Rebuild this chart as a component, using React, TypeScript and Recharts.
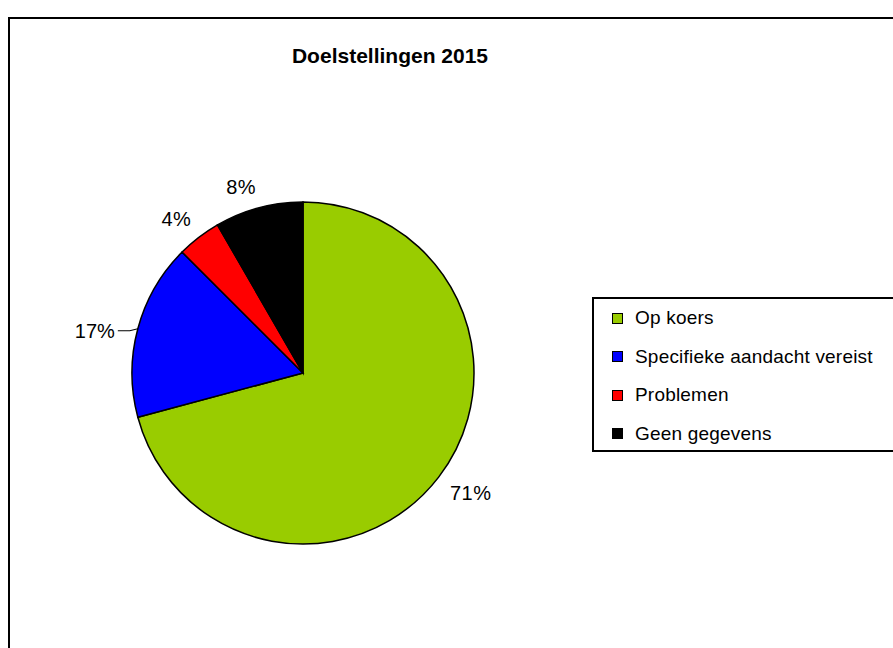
import { PieChart, Pie, Cell, Legend } from 'recharts';

const title = 'Doelstellingen 2015';
const categories = ['Op koers', 'Specifieke aandacht vereist', 'Problemen', 'Geen gegevens'];
// aantal doelstellingen per status (24 in totaal -> 71%, 17%, 4%, 8%)
const counts = [17, 4, 1, 2];
const colors = ['#99CC00', '#0000FF', '#FF0000', '#000000'];
const leaderFor = 'Specifieke aandacht vereist';

const data = categories.map((name, i) => ({ name, value: counts[i] }));

const FONT = '"Liberation Sans", Arial, sans-serif';
const RADIAN = Math.PI / 180;

function renderLabel(props: any) {
    const { cx, cy, midAngle, outerRadius, percent, name } = props;
    const text = `${Math.round(percent * 100)}%`;
    const cos = Math.cos(-midAngle * RADIAN);
    const sin = Math.sin(-midAngle * RADIAN);

    if (name === leaderFor) {
        const px = cx + outerRadius * cos;
        const py = cy + outerRadius * sin;
        return (
            <g>
                <polyline
                    points={`${px},${py} ${px - 8},${py + 2} ${px - 20},${py + 2}`}
                    fill="none"
                    stroke="#000"
                    strokeWidth={1.2}
                />
                <text x={px - 23} y={py + 2} textAnchor="end" dominantBaseline="central"
                    fontFamily={FONT} fontSize={20} fill="#000">
                    {text}
                </text>
            </g>
        );
    }

    // label box corner touches a point just outside the slice, like excel does
    const w = text.length * 14;
    const h = 15;
    const r = outerRadius + 14;
    const x = cx + r * cos + (cos >= 0 ? w / 2 : -w / 2);
    const y = cy + r * sin + (sin >= 0 ? h / 2 : -h / 2);
    return (
        <text x={x} y={y} textAnchor="middle" dominantBaseline="central"
            fontFamily={FONT} fontSize={20} fill="#000" letterSpacing={0.5}>
            {text}
        </text>
    );
}

function LegendBox() {
    return (
        <div style={{
            borderTop: '2px solid #000', borderLeft: '2px solid #000', borderBottom: '2px solid #000',
            height: 151, width: 400, boxSizing: 'content-box',
            fontFamily: FONT, fontSize: 19, color: '#000',
        }}>
            {categories.map((c, i) => (
                <div key={c} style={{ height: 38.5, display: 'flex', alignItems: 'center' }}>
                    <span style={{
                        display: 'inline-block', width: 9, height: 9, background: colors[i],
                        border: '1px solid #000', marginLeft: 18, marginRight: 12,
                    }} />
                    <span style={{ letterSpacing: 0.2 }}>{c}</span>
                </div>
            ))}
        </div>
    );
}

export default function App() {
    return (
        <div style={{
            position: 'fixed', left: 0, top: 0, width: 893, height: 648,
            overflow: 'hidden', background: '#fff',
        }}>
            <div style={{
                position: 'absolute', left: 8, top: 17, width: 1000, height: 1000,
                border: '2px solid #000', boxSizing: 'border-box',
            }} />
            <div style={{
                position: 'absolute', left: 190, top: 44, width: 400, textAlign: 'center',
                fontFamily: FONT, fontWeight: 'bold', fontSize: 21, color: '#000',
            }}>
                {title}
            </div>
            <div style={{ position: 'absolute', left: 0, top: 0 }}>
                <PieChart width={893} height={648} margin={{ top: 0, right: 0, bottom: 0, left: 0 }}>
                    <Pie
                        data={data}
                        dataKey="value"
                        nameKey="name"
                        cx={303}
                        cy={373}
                        outerRadius={171}
                        startAngle={90}
                        endAngle={-270}
                        stroke="#000"
                        strokeWidth={1.5}
                        label={renderLabel}
                        labelLine={false}
                        isAnimationActive={false}
                    >
                        {data.map((d, i) => (
                            <Cell key={d.name} fill={colors[i]} />
                        ))}
                    </Pie>
                    <Legend
                        layout="vertical"
                        align="right"
                        verticalAlign="top"
                        content={() => <LegendBox />}
                        wrapperStyle={{ left: 592, top: 297, width: 400 }}
                    />
                </PieChart>
            </div>
        </div>
    );
}
